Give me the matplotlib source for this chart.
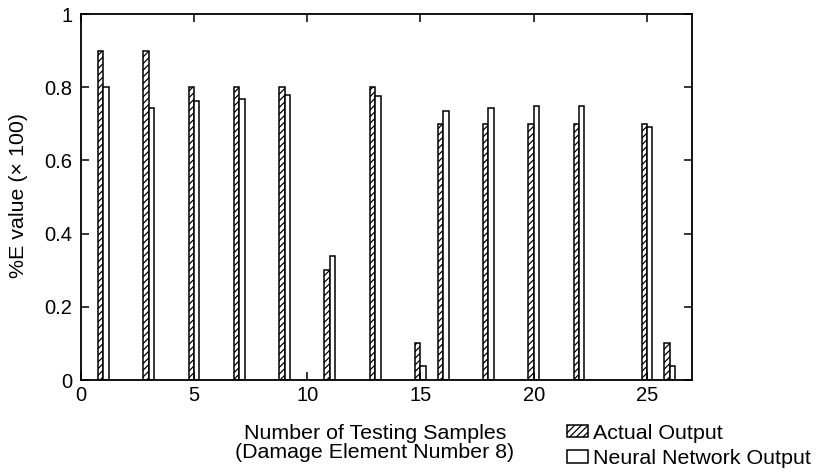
import numpy as np
import matplotlib
matplotlib.use('Agg')
import matplotlib.pyplot as plt

plt.rcParams['font.family'] = ['Liberation Sans', 'DejaVu Sans']
plt.rcParams['hatch.linewidth'] = 0.9

# 데이터
samples = [1, 3, 5, 7, 9, 11, 13, 15, 16, 18, 20, 22, 25, 26]
actual = [0.9, 0.9, 0.8, 0.8, 0.8, 0.3, 0.8, 0.1, 0.7, 0.7, 0.7, 0.7, 0.7, 0.1]
neural = [0.80, 0.744, 0.763, 0.768, 0.778, 0.339, 0.777, 0.038,
          0.735, 0.744, 0.748, 0.748, 0.692, 0.039]
xticks = [0, 5, 10, 15, 20, 25]
yticks = [0, 0.2, 0.4, 0.6, 0.8, 1]

fs_tick = 14.5
fs = 15.4
w = 0.24
x = np.array(samples, dtype=float)

fig = plt.figure(figsize=(8.2, 4.73), dpi=100)
ax = fig.add_axes([0.0984, 0.1966, 0.7459, 0.7738])

ax.bar(x - w, actual, width=w, align='edge', facecolor='white',
       edgecolor='black', hatch='/////', linewidth=1.1, label='Actual Output')
ax.bar(x, neural, width=w, align='edge', facecolor='white',
       edgecolor='black', linewidth=1.1, label='Neural Network Output')

ax.set_xlim(0, 27)
ax.set_ylim(0, 1)
ax.set_xticks(xticks)
ax.set_yticks(yticks)
ax.set_yticklabels(['0', '0.2', '0.4', '0.6', '0.8', '1'])
ax.tick_params(direction='in', length=6, width=1.1, top=True, right=True,
               labelsize=fs_tick)
ax.tick_params(axis='y', pad=6)
ax.tick_params(axis='x', pad=4.5)
for s in ax.spines.values():
    s.set_linewidth(1.3)

ax.set_ylabel('%E value (× 100)', fontsize=fs)
ax.yaxis.set_label_coords(-0.086, 0.505)

fig.text(375 / 820, 1 - 424 / 473,
         'Number of Testing Samples\n(Damage Element Number 8)',
         ha='center', va='top', fontsize=fs, linespacing=1.02)

fig.legend(loc='upper left', bbox_to_anchor=(556 / 820, 1 - 413 / 473),
           frameon=False, fontsize=fs, handlelength=1.0, handleheight=0.5,
           handletextpad=0.25, labelspacing=0.3, borderpad=0)

fig.savefig('out.png', dpi=100)
